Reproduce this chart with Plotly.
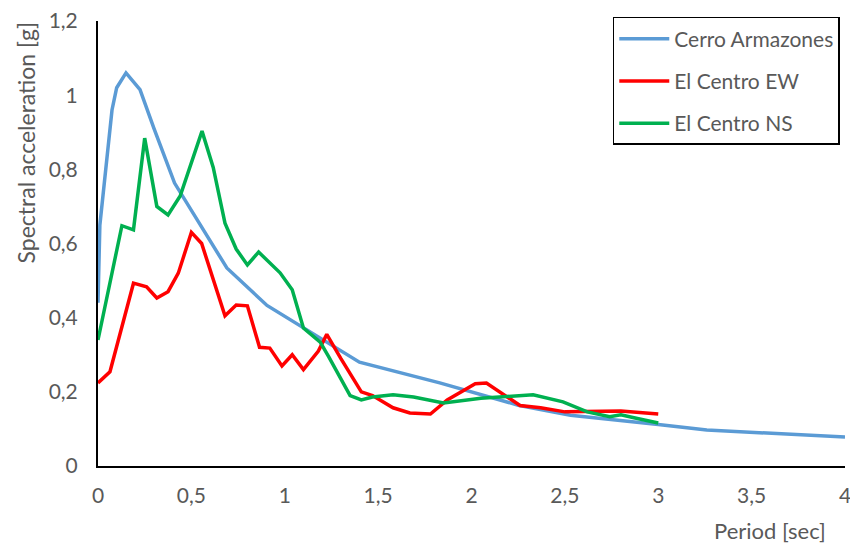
import plotly.graph_objects as go

# ---- data ----
cerro_x = [0, 0.01, 0.075, 0.1, 0.15, 0.225, 0.3, 0.41, 0.69, 0.905, 1.4, 1.83, 2.25, 2.53, 3.0, 3.26, 4.0]
cerro_y = [0.44, 0.65, 0.96, 1.02, 1.06, 1.015, 0.91, 0.763, 0.534, 0.433, 0.28, 0.224, 0.164, 0.137, 0.112, 0.097, 0.078]

ew_x = [0, 0.064, 0.19, 0.26, 0.315, 0.375, 0.43, 0.5, 0.555, 0.68, 0.74, 0.8, 0.865, 0.92,
        0.985, 1.04, 1.1, 1.18, 1.225, 1.3, 1.41, 1.47, 1.58, 1.67, 1.78, 1.87, 2.02, 2.08,
        2.26, 2.37, 2.5, 2.8, 3.0]
ew_y = [0.224, 0.254, 0.493, 0.483, 0.453, 0.47, 0.52, 0.63, 0.60, 0.405, 0.434, 0.432, 0.32, 0.318,
        0.27, 0.30, 0.26, 0.31, 0.355, 0.29, 0.2, 0.19, 0.157, 0.143, 0.14, 0.178, 0.222, 0.224,
        0.163, 0.157, 0.146, 0.148, 0.14]

ns_x = [0, 0.128, 0.19, 0.25, 0.315, 0.375, 0.44, 0.557, 0.617, 0.68, 0.74, 0.80, 0.86, 0.975,
        1.04, 1.10, 1.19, 1.235, 1.35, 1.41, 1.47, 1.58, 1.69, 1.85, 2.05, 2.26, 2.33, 2.49,
        2.62, 2.74, 2.8, 2.87, 3.0]
ns_y = [0.34, 0.648, 0.637, 0.884, 0.70, 0.677, 0.728, 0.903, 0.805, 0.655, 0.585, 0.542, 0.577, 0.521,
        0.475, 0.372, 0.334, 0.295, 0.19, 0.178, 0.186, 0.192, 0.186, 0.17, 0.183, 0.19, 0.192, 0.173,
        0.146, 0.133, 0.138, 0.13, 0.116]

x_tickvals = [0, 0.5, 1, 1.5, 2, 2.5, 3, 3.5, 4]
x_ticktext = ["0", "0,5", "1", "1,5", "2", "2,5", "3", "3,5", "4"]
y_tickvals = [0, 0.2, 0.4, 0.6, 0.8, 1.0, 1.2]
y_ticktext = ["0", "0,2", "0,4", "0,6", "0,8", "1", "1,2"]

FONT = "Lato"
GREY = "#595959"

fig = go.Figure()
series = [
    ("Cerro Armazones", cerro_x, cerro_y, "#5B9BD5"),
    ("El Centro EW", ew_x, ew_y, "#FF0000"),
    ("El Centro NS", ns_x, ns_y, "#00B050"),
]
for name, xs, ys, col in series:
    fig.add_trace(go.Scatter(x=xs, y=ys, mode="lines", name=name, legendgroup=name,
                             line=dict(color=col, width=3.5)))

fig.update_layout(
    width=850, height=544,
    margin=dict(l=98, r=5, t=21, b=78, autoexpand=False),
    paper_bgcolor="white", plot_bgcolor="white",
    font=dict(family=FONT, size=21, color=GREY),
    showlegend=True,
    legend=dict(x=0.993, y=1.009, xanchor="right", yanchor="top",
                bordercolor="black", borderwidth=1.5, bgcolor="white",
                font=dict(family=FONT, size=21, color=GREY),
                tracegroupgap=12, itemwidth=50),
    xaxis=dict(range=[0, 4], tickvals=x_tickvals, ticktext=x_ticktext, automargin=False,
               showgrid=False, zeroline=False, showline=True, linecolor="black", linewidth=2,
               ticks="", ticklabelstandoff=10, ticklabeloverflow="allow", fixedrange=True),
    yaxis=dict(range=[0, 1.2], tickvals=y_tickvals, ticktext=y_ticktext, automargin=False,
               showgrid=False, zeroline=False, showline=True, linecolor="black", linewidth=2,
               ticks="", ticklabelstandoff=14, ticklabeloverflow="allow", fixedrange=True),
    annotations=[
        dict(text="Spectral acceleration [g]", xref="paper", yref="paper",
             x=-0.097, y=0.726, xanchor="center", yanchor="middle",
             textangle=-90, showarrow=False,
             font=dict(family=FONT, size=23, color=GREY)),
        dict(text="Period [sec]", xref="paper", yref="paper",
             x=0.9, y=-0.146, xanchor="center", yanchor="middle", showarrow=False,
             font=dict(family=FONT, size=22, color=GREY)),
    ],
)

fig.write_html("out.html")
